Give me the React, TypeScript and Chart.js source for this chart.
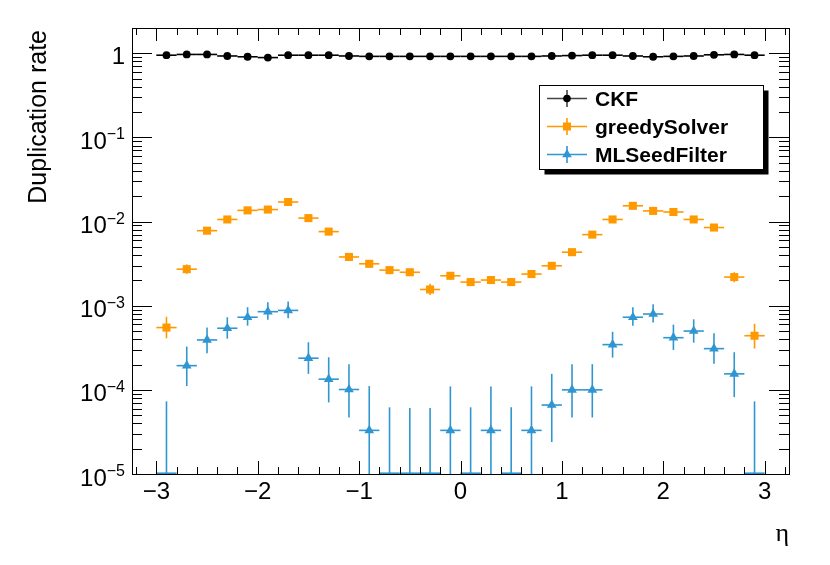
import { useEffect, useRef } from "react";
import { Chart, registerables } from "chart.js";

Chart.register(...registerables);

// bin centres in eta, bin width 0.2
const etaBins = [
  -2.9, -2.7, -2.5, -2.3, -2.1, -1.9, -1.7, -1.5, -1.3, -1.1, -0.9, -0.7, -0.5, -0.3, -0.1,
  0.1, 0.3, 0.5, 0.7, 0.9, 1.1, 1.3, 1.5, 1.7, 1.9, 2.1, 2.3, 2.5, 2.7, 2.9,
];
const binHalfWidth = 0.1;

const ckfRate = [
  0.95, 0.97, 0.97, 0.93, 0.91, 0.89, 0.95, 0.95, 0.95, 0.93, 0.92, 0.92, 0.92, 0.92, 0.92,
  0.92, 0.92, 0.92, 0.92, 0.93, 0.94, 0.95, 0.95, 0.93, 0.91, 0.92, 0.93, 0.96, 0.97, 0.95,
];

const greedyRate = [
  5.5e-4, 2.72e-3, 7.8e-3, 1.06e-2, 1.36e-2, 1.39e-2, 1.71e-2, 1.1e-2, 7.6e-3, 3.8e-3,
  3.15e-3, 2.65e-3, 2.5e-3, 1.56e-3, 2.27e-3, 1.91e-3, 2.02e-3, 1.91e-3, 2.38e-3, 2.98e-3,
  4.33e-3, 7.0e-3, 1.06e-2, 1.54e-2, 1.34e-2, 1.3e-2, 1.06e-2, 8.5e-3, 2.19e-3, 4.4e-4,
];
const greedyHigh = [
  7.4e-4, 3.1e-3, 8.2e-3, 1.1e-2, 1.41e-2, 1.44e-2, 1.76e-2, 1.15e-2, 7.95e-3, 4.05e-3,
  3.4e-3, 2.87e-3, 2.7e-3, 1.82e-3, 2.5e-3, 2.12e-3, 2.22e-3, 2.11e-3, 2.6e-3, 3.22e-3,
  4.63e-3, 7.4e-3, 1.1e-2, 1.6e-2, 1.39e-2, 1.35e-2, 1.1e-2, 8.9e-3, 2.5e-3, 6.1e-4,
];
const greedyLow = [
  4.1e-4, 2.4e-3, 7.4e-3, 1.02e-2, 1.31e-2, 1.34e-2, 1.66e-2, 1.05e-2, 7.25e-3, 3.57e-3,
  2.92e-3, 2.45e-3, 2.3e-3, 1.34e-3, 2.05e-3, 1.72e-3, 1.83e-3, 1.72e-3, 2.17e-3, 2.75e-3,
  4.05e-3, 6.65e-3, 1.02e-2, 1.49e-2, 1.29e-2, 1.25e-2, 1.02e-2, 8.1e-3, 1.9e-3, 3.1e-4,
];

const mlRate = [
  0, 1.94e-4, 3.92e-4, 5.4e-4, 7.3e-4, 8.5e-4, 8.8e-4, 2.38e-4, 1.34e-4, 1.01e-4,
  3.3e-5, 0, 0, 0, 3.3e-5, 0, 3.3e-5, 0, 3.3e-5, 6.6e-5,
  1.0e-4, 1.0e-4, 3.45e-4, 7.3e-4, 7.97e-4, 4.17e-4, 5.0e-4, 3.09e-4, 1.55e-4, 0,
];
const mlHigh = [
  7.3e-5, 3.27e-4, 5.5e-4, 7.3e-4, 9.6e-4, 1.1e-3, 1.12e-3, 3.68e-4, 2.44e-4, 2.02e-4,
  1.11e-4, 6.2e-5, 6.1e-5, 6.1e-5, 1.1e-4, 6.2e-5, 1.1e-4, 6.2e-5, 1.1e-4, 1.55e-4,
  2.02e-4, 2.02e-4, 4.9e-4, 9.6e-4, 1.04e-3, 5.96e-4, 6.9e-4, 4.7e-4, 2.8e-4, 7.3e-5,
];
const mlLow = [
  0, 1.11e-4, 2.72e-4, 4.06e-4, 5.8e-4, 6.8e-4, 7.1e-4, 1.55e-4, 7.1e-5, 4.7e-5,
  3e-6, 0, 0, 0, 3e-6, 0, 3e-6, 0, 3e-6, 2.4e-5,
  4.7e-5, 4.7e-5, 2.42e-4, 5.8e-4, 6.3e-4, 2.98e-4, 3.64e-4, 2.05e-4, 8.2e-5, 0,
];

const xTickValues = [-3, -2, -1, 0, 1, 2, 3];
const yTickPowers = [0, -1, -2, -3, -4, -5];

const series = [
  { label: "CKF", color: "#000000", legendLine: "#444444", values: ckfRate, high: null, low: null, marker: "circle" },
  { label: "greedySolver", color: "#ff9900", legendLine: "#ff9900", values: greedyRate, high: greedyHigh, low: greedyLow, marker: "rect" },
  { label: "MLSeedFilter", color: "#2f96d1", legendLine: "#2f96d1", values: mlRate, high: mlHigh, low: mlLow, marker: "triangle" },
];

const SANS = '"Liberation Sans", Arial, Helvetica, sans-serif';

function drawMarker(ctx: CanvasRenderingContext2D, kind: string, x: number, y: number, color: string) {
  ctx.fillStyle = color;
  ctx.beginPath();
  if (kind === "circle") {
    ctx.arc(x, y, 3.8, 0, Math.PI * 2);
  } else if (kind === "rect") {
    ctx.rect(x - 4, y - 4, 8, 8);
  } else {
    ctx.moveTo(x, y - 5.5);
    ctx.lineTo(x + 4.8, y + 2.8);
    ctx.lineTo(x - 4.8, y + 2.8);
    ctx.closePath();
  }
  ctx.fill();
}

const rootStyle = {
  id: "rootStyle",
  beforeDatasetDraw(chart: any, args: any) {
    const s = series[args.index];
    const { ctx, chartArea: a } = chart;
    const xs = chart.scales.x;
    const ys = chart.scales.y;
    ctx.save();
    ctx.beginPath();
    ctx.rect(a.left, a.top, a.right - a.left, a.bottom - a.top);
    ctx.clip();
    ctx.strokeStyle = s.color;
    ctx.lineWidth = 1.6;
    etaBins.forEach((eta, i) => {
      const v = s.values[i];
      const py = v > 0 ? ys.getPixelForValue(v) : a.bottom - 0.8;
      const x0 = xs.getPixelForValue(eta - binHalfWidth);
      const x1 = xs.getPixelForValue(eta + binHalfWidth);
      const px = xs.getPixelForValue(eta);
      ctx.beginPath();
      ctx.moveTo(x0, py);
      ctx.lineTo(x1, py);
      ctx.stroke();
      if (s.high && s.low) {
        const hi = ys.getPixelForValue(s.high[i]);
        const lo = s.low[i] > 0 ? ys.getPixelForValue(s.low[i]) : a.bottom + 5;
        ctx.beginPath();
        ctx.moveTo(px, hi);
        ctx.lineTo(px, lo);
        ctx.stroke();
      }
    });
    ctx.restore();
  },
  afterDraw(chart: any) {
    const { ctx, chartArea: a } = chart;
    const xs = chart.scales.x;
    const ys = chart.scales.y;
    ctx.save();
    ctx.strokeStyle = "#000";
    ctx.fillStyle = "#000";
    ctx.lineWidth = 1;

    // frame
    ctx.strokeRect(Math.round(a.left) + 0.5, Math.round(a.top) + 0.5, Math.round(a.right - a.left), Math.round(a.bottom - a.top));

    // y ticks (both sides)
    const yTick = (v: number, len: number) => {
      const py = Math.round(ys.getPixelForValue(v)) + 0.5;
      ctx.beginPath();
      ctx.moveTo(a.left, py);
      ctx.lineTo(a.left + len, py);
      ctx.moveTo(a.right, py);
      ctx.lineTo(a.right - len, py);
      ctx.stroke();
    };
    yTickPowers.forEach((p) => {
      yTick(Math.pow(10, p), 20);
      for (let m = 2; m <= 9; m++) {
        const v = m * Math.pow(10, p);
        if (v <= ys.max * 1.0001) yTick(v, 10);
      }
    });

    // x ticks (bottom and top)
    const xTick = (v: number, len: number) => {
      const px = Math.round(xs.getPixelForValue(v)) + 0.5;
      ctx.beginPath();
      ctx.moveTo(px, a.bottom);
      ctx.lineTo(px, a.bottom - len);
      ctx.moveTo(px, a.top);
      ctx.lineTo(px, a.top + len);
      ctx.stroke();
    };
    for (let k = -16; k <= 16; k++) {
      const v = k / 5;
      if (v < xs.min || v > xs.max) continue;
      xTick(v, k % 5 === 0 ? 13 : 7);
    }

    // x labels
    ctx.font = `24px ${SANS}`;
    ctx.textAlign = "center";
    ctx.textBaseline = "alphabetic";
    xTickValues.forEach((v) => {
      const txt = v < 0 ? "\u2212" + Math.abs(v) : String(v);
      ctx.fillText(txt, xs.getPixelForValue(v), a.bottom + 25);
    });

    // y labels
    ctx.textAlign = "right";
    const labelRight = a.left - 7;
    yTickPowers.forEach((p) => {
      const py = ys.getPixelForValue(Math.pow(10, p));
      if (p === 0) {
        ctx.font = `24px ${SANS}`;
        ctx.fillText("1", labelRight, py + 11);
        return;
      }
      const exp = "\u2212" + Math.abs(p);
      ctx.font = `16px ${SANS}`;
      const w = ctx.measureText(exp).width;
      ctx.fillText(exp, labelRight, py + 2);
      ctx.font = `24px ${SANS}`;
      ctx.fillText("10", labelRight - w, py + 11.5);
    });

    // axis titles
    ctx.save();
    ctx.translate(46, a.top + 2);
    ctx.rotate(-Math.PI / 2);
    ctx.font = `25px ${SANS}`;
    ctx.textAlign = "right";
    ctx.fillText("Duplication rate", 0, 0);
    ctx.restore();

    ctx.font = `26px "Liberation Serif", "DejaVu Serif", serif`;
    ctx.textAlign = "right";
    ctx.fillText("\u03b7", a.right, 541);

    // legend with shadow
    const lx = 539.5, ly = 85.5, lw = 224, lh = 84;
    ctx.fillStyle = "#000";
    ctx.fillRect(lx + 5, ly + 5, lw, lh);
    ctx.fillStyle = "#fff";
    ctx.fillRect(lx, ly, lw, lh);
    ctx.strokeRect(lx, ly, lw, lh);
    const rowY = [98.5, 126.5, 154.5];
    series.forEach((s, i) => {
      const cy = rowY[i];
      ctx.strokeStyle = s.legendLine;
      ctx.lineWidth = 1.6;
      ctx.beginPath();
      ctx.moveTo(547, cy);
      ctx.lineTo(587, cy);
      ctx.moveTo(567, cy - 8.5);
      ctx.lineTo(567, cy + 8.5);
      ctx.stroke();
      drawMarker(ctx, s.marker, 567, cy, s.color);
      ctx.fillStyle = "#000";
      ctx.font = `bold 21px ${SANS}`;
      ctx.textAlign = "left";
      ctx.fillText(s.label, 595, cy + 7.5);
    });
    ctx.restore();
  },
};

export default function App() {
  const canvasRef = useRef<HTMLCanvasElement | null>(null);

  useEffect(() => {
    if (!canvasRef.current) return;
    const chart = new Chart(canvasRef.current, {
      type: "scatter",
      data: {
        datasets: series.map((s) => ({
          label: s.label,
          data: etaBins.map((eta, i) => ({ x: eta, y: s.values[i] > 0 ? s.values[i] : null })),
          pointStyle: s.marker,
          pointRadius: s.marker === "rect" ? 5.7 : s.marker === "triangle" ? 5.6 : 3.9,
          pointBackgroundColor: s.color,
          pointBorderColor: s.color,
          pointBorderWidth: 0,
          showLine: false,
        })) as any,
      },
      options: {
        animation: false,
        responsive: false,
        layout: { padding: { left: 132, top: 28, right: 41, bottom: 91 } },
        plugins: { legend: { display: false }, tooltip: { enabled: false } },
        scales: {
          x: { type: "linear", min: -3.24, max: 3.24, display: false },
          y: { type: "logarithmic", min: 1e-5, max: 2, display: false },
        },
      },
      plugins: [rootStyle],
    });
    return () => chart.destroy();
  }, []);

  return (
    <div style={{ position: "absolute", left: 0, top: 0, width: 830, height: 565, background: "#fff" }}>
      <canvas ref={canvasRef} width={830} height={565} style={{ display: "block" }} />
    </div>
  );
}
